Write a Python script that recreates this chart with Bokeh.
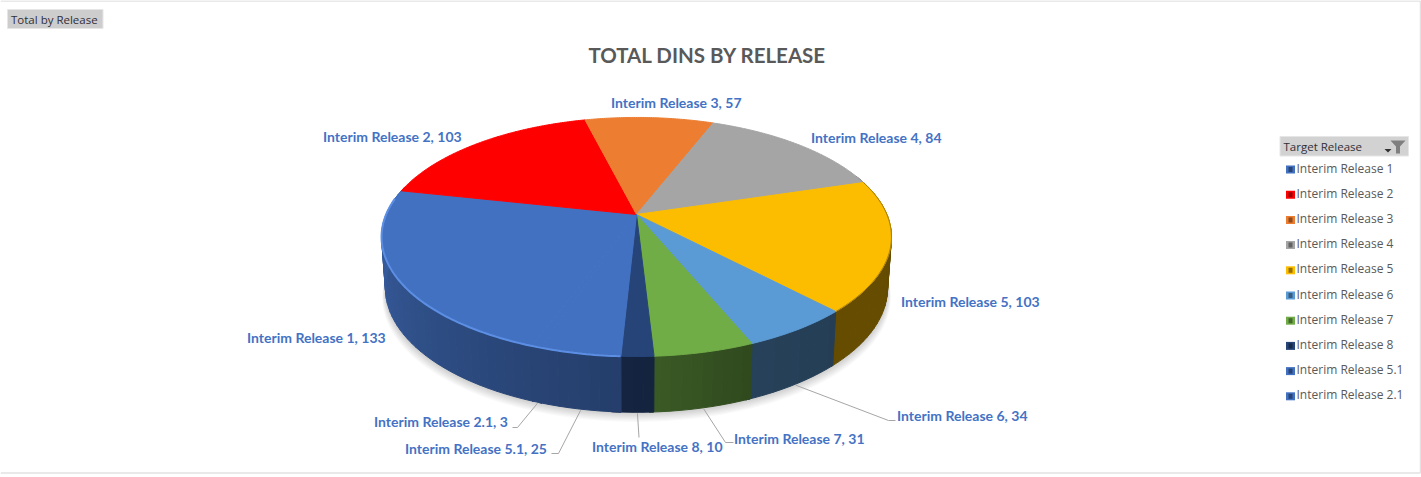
import numpy as np
from bokeh.plotting import figure
from bokeh.models import Range1d
from bokeh.core.properties import value
from bokeh.embed import file_html
from bokeh.resources import INLINE

# ---- data ----
categories = ["Interim Release 1", "Interim Release 2", "Interim Release 3", "Interim Release 4",
              "Interim Release 5", "Interim Release 6", "Interim Release 7", "Interim Release 8",
              "Interim Release 5.1", "Interim Release 2.1"]
values = [133, 103, 57, 84, 103, 34, 31, 10, 25, 3]
colors = ["#4371C2", "#FF0000", "#ED7D31", "#A5A5A5", "#FCBD00", "#5B9BD5", "#70AD47", "#264478",
          "#4371C2", "#4371C2"]

# ---- layout (pixels) ----
W, H = 1421, 477
CX, CY = 636.0, 214.0
A, B, K = 250.4, 115.3, 0.188          # top-face perspective
BASE_S, BASE_Y0, BASE_B = 0.985, 264.0, 120.0
START_DEG = -110.2                      # clockwise start of the first slice
DEG_PER = 360.0 / sum(values)
# label: left x, centre y
label_pos = {"Interim Release 1": (246.5, 337), "Interim Release 2": (322.5, 136), "Interim Release 3": (610.5, 102),
             "Interim Release 4": (810.5, 137), "Interim Release 5": (900.5, 301), "Interim Release 6": (896.5, 415),
             "Interim Release 7": (733.5, 438), "Interim Release 8": (591.5, 446), "Interim Release 5.1": (404.5, 448),
             "Interim Release 2.1": (373.5, 421)}
# leader routes: elbow points from the slice to the label
leaders = {"Interim Release 6": [(888, 420), (895, 420)], "Interim Release 7": [(725, 442), (733, 442)],
           "Interim Release 8": [(638.5, 437)], "Interim Release 5.1": [(558, 453), (551, 453)],
           "Interim Release 2.1": [(517, 427), (512, 427)]}


def top_xy(deg):
    t = np.radians(deg)
    u, v = np.cos(t), np.sin(t)
    d = 1 + K * v
    return CX + A * u / d, CY - B * v / d


def base_xy(deg):
    t = np.radians(deg)
    u, v = np.cos(t), np.sin(t)
    d = 1 + K * v
    return CX + BASE_S * A * u / d, BASE_Y0 - BASE_B * v / d


def mix(hex_color, f, to=(0, 0, 0)):
    c = [int(hex_color[i:i + 2], 16) for i in (1, 3, 5)]
    m = [int(round(a * f + b * (1 - f))) for a, b in zip(c, to)]
    return "#%02x%02x%02x" % tuple(m)


p = figure(width=W, height=H, output_backend="svg", toolbar_location=None,
           x_range=Range1d(0, W), y_range=Range1d(H, 0), min_border=0,
           background_fill_color="white", outline_line_color=None)
p.axis.visible = False
p.grid.visible = False

# chart frame
p.line([0, W - 1, W - 1], [0.5, 0.5, 472.5], line_color="#e2e2e2", line_width=1.5)
p.line([0, W - 1], [472.5, 472.5], line_color="#e2e2e2", line_width=1.5)

# slices: clockwise, as angle ranges
ends = START_DEG - np.cumsum(values) * DEG_PER
starts = ends + np.array(values) * DEG_PER
mids = (starts + ends) / 2

# soft shadow under the base
ang = np.linspace(0, 360, 181)
bx, by = base_xy(ang)
for i in range(9):
    e = 1 + 0.0016 * i
    p.patch(CX + (bx - CX) * e, by + 1.2 * i, fill_color="#000000", fill_alpha=0.022, line_color=None)

# side wall: narrow strips shaded along the angle
sx, sy, sc = [], [], []
for s, e, col in zip(starts, ends, colors):
    grid = np.arange(s, e - 2.0, -2.0)
    grid = np.append(grid, e)
    for g0, g1 in zip(grid[:-1], grid[1:]):
        if g1 == g0:
            continue
        mm = (g0 + g1) / 2
        m = (mm + 200) % 360 - 200       # wrap into [-200, 160)
        if -195 < m < 20:
            tx, ty = top_xy(np.array([g0, g1]))
            ox, oy = base_xy(np.array([g0, g1]))
            sx.append([tx[0], tx[1], ox[1], ox[0]])
            sy.append([ty[0], ty[1], oy[1], oy[0]])
            sc.append(mix(col, float(np.interp(m, [-195, -93, -67, -46, 20], [0.87, 0.55, 0.42, 0.40, 0.40]))))
p.patches(sx, sy, fill_color=sc, line_color=sc, line_width=1)

# top face
for s, e, col in zip(starts, ends, colors):
    arc = np.linspace(s, e, max(4, int((s - e) * 2)))
    ax, ay = top_xy(arc)
    p.patch(np.r_[CX, ax], np.r_[CY, ay], fill_color=col, line_color=col, line_width=1)

# rim highlights
arc = np.linspace(-93, -188, 120)
ax, ay = top_xy(arc)
p.line(ax, ay, line_color="#5c8fe4", line_width=2)
arc = np.linspace(17, -46.6, 60)
ax, ay = top_xy(arc)
p.line(ax, ay, line_color="#a98000", line_width=1)

# data labels
for name, v, m in zip(categories, values, mids):
    lx, ly = label_pos[name]
    if name in leaders:
        x0, y0 = base_xy(np.array(m))
        pts = [(float(x0), float(y0) + 1)] + leaders[name]
        p.line([q[0] for q in pts], [q[1] for q in pts], line_color="#a6a6a6", line_width=1)
    p.text([lx], [ly], text=[f"{name}, {v}"], text_font=value("Lato"), text_font_style="bold",
           text_font_size="14px", text_color="#4472C4", text_baseline="middle", text_align="left")

# title
p.text([707], [54.5], text=["TOTAL DINS BY RELEASE"], text_font=value("Lato"), text_font_style="bold",
       text_font_size="20.5px", text_color="#595959", text_baseline="middle", text_align="center")

# field button
p.quad(left=[7], right=[102.5], top=[9], bottom=[28], fill_color="#cdcdcd", line_color="#e6e6e6", line_width=1)
p.text([10.5], [18.5], text=["Total by Release"], text_font=value("Open Sans"), text_font_size="11.5px",
       text_color="#30303a", text_baseline="middle", text_align="left")

# pivot legend header
p.quad(left=[1279.5], right=[1408], top=[136], bottom=[155.5], fill_color="#d2d2d2", line_color="#e6e6e6", line_width=1)
p.text([1283], [145.5], text=["Target Release"], text_font=value("Open Sans"), text_font_size="11.5px",
       text_color="#30303a", text_baseline="middle", text_align="left")
p.patch([1390, 1405, 1399.5, 1399.5, 1395.5, 1395.5], [140, 140, 146, 153, 153, 146], fill_color="#7f7f7f", line_color=None)
p.patch([1384, 1391, 1387.5], [148.5, 148.5, 152], fill_color="#303030", line_color=None)

# pivot legend rows
LEG_Y0, LEG_STEP = 167.5, 25.2
for i, (name, col) in enumerate(zip(categories, colors)):
    y = LEG_Y0 + i * LEG_STEP
    p.quad(left=[1285.5], right=[1294.5], top=[y - 2.5], bottom=[y + 5.5], fill_color=col, line_color=None)
    p.quad(left=[1288], right=[1292], top=[y - 1], bottom=[y + 4], fill_color=mix(col, 0.6), line_color=None)
    p.text([1296], [y], text=[name], text_font=value("Open Sans"), text_font_size="12px",
           text_color="#595959", text_baseline="middle", text_align="left")

open("out.html", "w").write(file_html(p, INLINE))
